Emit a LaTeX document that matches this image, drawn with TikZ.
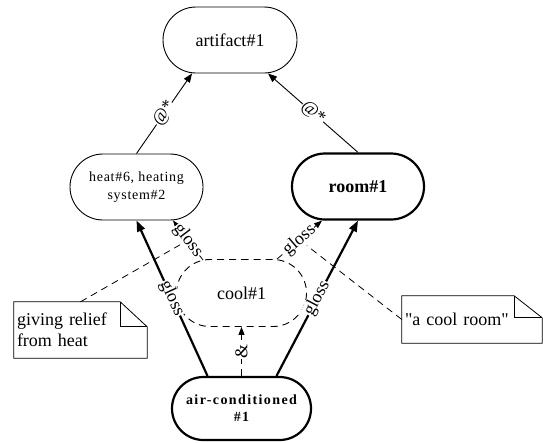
\documentclass[tikz,border=0pt]{standalone}
\usepackage{fontspec}
\setmainfont{Liberation Serif}[Ligatures=TeXOff]
\usetikzlibrary{shapes.misc,arrows.meta}

\begin{document}
\begin{tikzpicture}[x=1pt,y=1pt,
  every node/.style={font=\fontsize{18}{21}\selectfont},
  synset/.style={rounded rectangle, draw, line width=0.9pt, minimum height=66pt, inner sep=0pt, align=center},
  strong/.style={line width=2.2pt},
  dashy/.style={dash pattern=on 7pt off 5pt},
  link/.style={line width=0.9pt, -{Triangle[length=9pt,width=7pt]}},
  boldlink/.style={line width=2.2pt, -{Triangle[length=11pt,width=8pt]}},
  dashlink/.style={line width=0.8pt, dashy, -{Triangle[length=8pt,width=6pt]}},
  elabel/.style={sloped, midway, fill=white, inner sep=0.5pt},
  noteline/.style={line width=0.8pt, dashy},
  notetext/.style={inner sep=3pt, align=left},
  smallspaced/.style={font=\fontsize{14}{18}\selectfont\addfontfeature{LetterSpace=5}},
  boldspaced/.style={font=\fontsize{14}{17}\selectfont\bfseries\addfontfeature{LetterSpace=10}}
]
\useasboundingbox (0,0) rectangle (543,-442);

% synset nodes
\node[synset, minimum width=134pt] (art) at (230,-40) {artifact\#1};
\node[synset, smallspaced, minimum width=133pt] (heat) at (136.5,-187) {heat\#6, heating\\system\#2};
\node[synset, strong, minimum width=132pt, font=\fontsize{18}{21}\selectfont\bfseries] (room) at (358,-186.5) {room\#1};
\node[synset, dashy, minimum width=130pt, minimum height=67pt] (cool) at (241.5,-293) {cool\#1};
\node[synset, strong, boldspaced, minimum width=139pt, minimum height=63pt] (air) at (241.5,-408.5) {air-conditioned\\\#1};

% note boxes
\node[notetext, text width=127pt, minimum height=56pt] (n1) at (80.5,-330) {giving relief\\from heat};
\draw[line width=0.8pt] (n1.north west) -- ([xshift=-27pt]n1.north east) -- ([yshift=-25pt]n1.north east) -- (n1.south east) -- (n1.south west) -- cycle;
\draw[line width=0.8pt] ([xshift=-27pt]n1.north east) |- ([yshift=-25pt]n1.north east);

\node[notetext, text width=134pt, minimum height=47pt] (n2) at (472,-319.5) {"a cool room"};
\draw[line width=0.8pt] (n2.north west) -- ([xshift=-28pt]n2.north east) -- ([yshift=-22pt]n2.north east) -- (n2.south east) -- (n2.south west) -- cycle;
\draw[line width=0.8pt] ([xshift=-28pt]n2.north east) |- ([yshift=-22pt]n2.north east);

% relations
\draw[link] (heat.north) -- ([xshift=-38pt]art.south) node[elabel] (a1) {@*};
\draw[link] (room.north) -- ([xshift=38pt]art.south) node[elabel] (a2) {@*};
\draw[boldlink] ([xshift=-34pt]air.north) -- (heat.south) node[elabel] (g1) {gloss};
\draw[boldlink] ([xshift=35pt]air.north) -- (room.south) node[elabel] (g2) {gloss};
\draw[dashlink] ([xshift=-38.5pt,yshift=-1pt]cool.north) -- ([xshift=36.5pt]heat.south) node[elabel] (g3) {gloss};
\draw[dashlink] ([xshift=35.5pt]cool.north) -- ([xshift=-36pt]room.south) node[elabel] (g4) {gloss};
\draw[dashlink] (air.north) -- (cool.south) node[elabel] (amp) {\&};

% note attachments
\draw[noteline] (n1.north) -- (g3);
\draw[noteline] (n2.west) -- (g4);
\end{tikzpicture}
\end{document}
